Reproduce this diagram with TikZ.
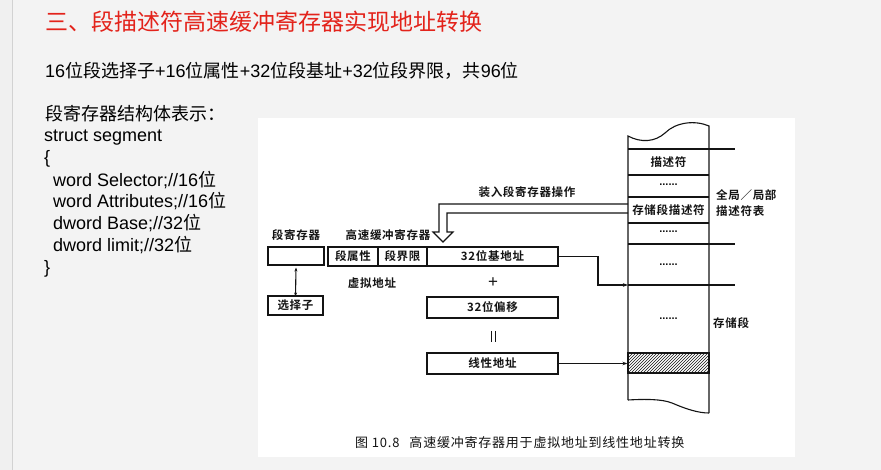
\documentclass[tikz,border=0pt]{standalone}
\usepackage{fontspec}
\setmainfont{Liberation Sans}
\newfontfamily\cjk{Noto Sans CJK SC}
\newfontfamily\figfont[LetterSpace=6]{Noto Sans CJK SC Bold}
\newfontfamily\capfont[LetterSpace=6]{Noto Sans CJK SC}
\newcommand\zh[1]{{\cjk #1}}
\usetikzlibrary{arrows.meta,patterns}
\definecolor{slidebg}{HTML}{F3F3F3}
\definecolor{titlered}{HTML}{E3231B}
\definecolor{ink}{HTML}{141414}
\tikzset{
  lefttxt/.style={anchor=west,inner sep=0pt,text height=13pt,text depth=4pt,
    font=\fontsize{18}{20}\selectfont},
  figline/.style={draw=ink,line width=1.1pt},
  figtxt/.style={inner sep=0pt,text=ink,font=\figfont\fontsize{11.5}{12}\selectfont},
  cell/.style={figline,figtxt,minimum height=19pt},
  dots/.style={inner sep=0pt,text=ink,font=\bfseries\fontsize{11}{12}\selectfont},
  tip/.style={-{Stealth[length=5pt,width=3.5pt]}}
}
\begin{document}
\begin{tikzpicture}[x=1pt,y=-1pt]
% slide background and scanned figure area
\fill[slidebg] (0,0) rectangle (881,470);
\useasboundingbox (0,0) rectangle (881,470);
\fill[gray!12] (0,0) rectangle (12,470);
\draw[gray!35,line width=0.5pt] (12,0) -- (12,470);
\fill[white] (258,118) rectangle (795,457);

% slide text
\node[anchor=west,inner sep=0pt,text=titlered,font=\cjk\fontsize{23}{25}\selectfont]
  (title) at (45,22) {三、段描述符高速缓冲寄存器实现地址转换};
\node[lefttxt] (bits) at (45,73)
  {16\zh{位段选择子}+16\zh{位属性}+32\zh{位段基址}+32\zh{位段界限，共}96\zh{位}};
\node[lefttxt] (s0) at (45,116) {\zh{段寄存器结构体表示：}};
\node[lefttxt] (s1) at (44,137) {struct segment};
\node[lefttxt] (s2) at (44,159) {\{};
\node[lefttxt] (s3) at (53,182) {word Selector;//16\zh{位}};
\node[lefttxt] (s4) at (53,203) {word Attributes;//16\zh{位}};
\node[lefttxt] (s5) at (53,225) {dword Base;//32\zh{位}};
\node[lefttxt] (s6) at (53,247) {dword limit;//32\zh{位}};
\node[lefttxt] (s7) at (44,269) {\}};

% segment register and selector
\node[figtxt] (segreglbl) at (296,235) {段寄存器};
\node[cell,minimum width=56pt,minimum height=18pt] (segreg) at (296,256) {};
\node[cell,minimum width=55pt] (sel) at (295.5,305.5) {选择子};
\draw[figline,{Stealth[length=4pt,width=3pt]}-{Stealth[length=4pt,width=3pt]}]
  (segreg.south) ++(0,2) -- ([yshift=-1pt]sel.north);

% descriptor cache register
\node[figtxt] (cachelbl) at (388,235) {高速缓冲寄存器};
\node[cell,minimum width=50pt] (attr) at (353,256.5) {段属性};
\node[cell,minimum width=49pt] (limit) at (402.5,256.5) {段界限};
\node[cell,minimum width=131pt] (base) at (492.5,256.5) {32位基地址};
\node[figtxt] (vaddr) at (372,283) {虚拟地址};
\node[inner sep=0pt,text=ink,font=\fontsize{17}{17}\selectfont] (plus) at (493,283) {+};
\node[cell,minimum width=131pt,minimum height=21pt] (offs) at (492.5,307.5) {32位偏移};
\node[cell,minimum width=131pt,minimum height=21pt] (lin) at (492.5,363.5) {线性地址};
\coordinate (eqa) at (491,331);
\coordinate (eqb) at (495,331);
\draw[figline,line width=0.9pt] (eqa) -- ++(0,11) (eqb) -- ++(0,11);

% descriptor table / memory column
\draw[figline] (628,400) -- (628,136)
  .. controls (641,143) and (655,142) .. (665,133)
  .. controls (676,122) and (695,120) .. (709,126) -- (709,413);
\draw[figline] (628,400) .. controls (645,399) and (662,399) .. (672,403)
  .. controls (686,409) and (698,413) .. (709,413);
\draw[figline] (628,149) -- (735,149);
\draw[figline] (628,175) -- (709,175);
\draw[figline] (628,197) -- (709,197);
\draw[figline] (628,223) -- (709,223);
\draw[figline] (628,244) -- (735,244);
\draw[figline] (628,285) -- (735,285);
\node[figline,pattern=north east lines,pattern color=ink,minimum width=81pt,
  minimum height=20pt,inner sep=0pt] (hatch) at (668.5,363) {};

\node[figtxt] (desc) at (668.5,162) {描述符};
\node[dots] (d1) at (668.5,185) {......};
\node[figtxt] (segdesc) at (668.5,210) {存储段描述符};
\node[dots] (d2) at (668.5,232) {......};
\node[dots] (d3) at (668.5,265) {......};
\node[dots] (d4) at (668.5,319) {......};
\node[figtxt,anchor=west] (gdt1) at (716,195) {全局／局部};
\node[figtxt,anchor=west] (gdt2) at (716,211) {描述符表};
\node[figtxt,anchor=west] (memseg) at (713,323) {存储段};

% loading the segment register: hollow double-line arrow
\coordinate (ldo) at (628,204);
\coordinate (ldi) at (628,213);
\coordinate (lao) at (439,232);
\coordinate (lai) at (447,232);
\draw[figline] (ldo) -| (lao) -- ++(-6,0) -- ++(10,10) -- ++(10,-10) -- (lai) |- (ldi);
\node[figtxt] (loadlbl) at (527,192) {装入段寄存器操作};

% base address into the segment, linear address into memory
\coordinate (bend) at (598,285);
\coordinate (segtop) at (628,285);
\draw[figline,tip] (base.east) -| (bend) -- (segtop);
\draw[figline,tip] (lin.east) -- (lin.east -| hatch.west);

% caption
\node[anchor=west,inner sep=0pt,text=ink,font=\capfont\fontsize{13}{14}\selectfont]
  (caption) at (355,443) {图 10.8\hspace{10pt}高速缓冲寄存器用于虚拟地址到线性地址转换};
\end{tikzpicture}
\end{document}
